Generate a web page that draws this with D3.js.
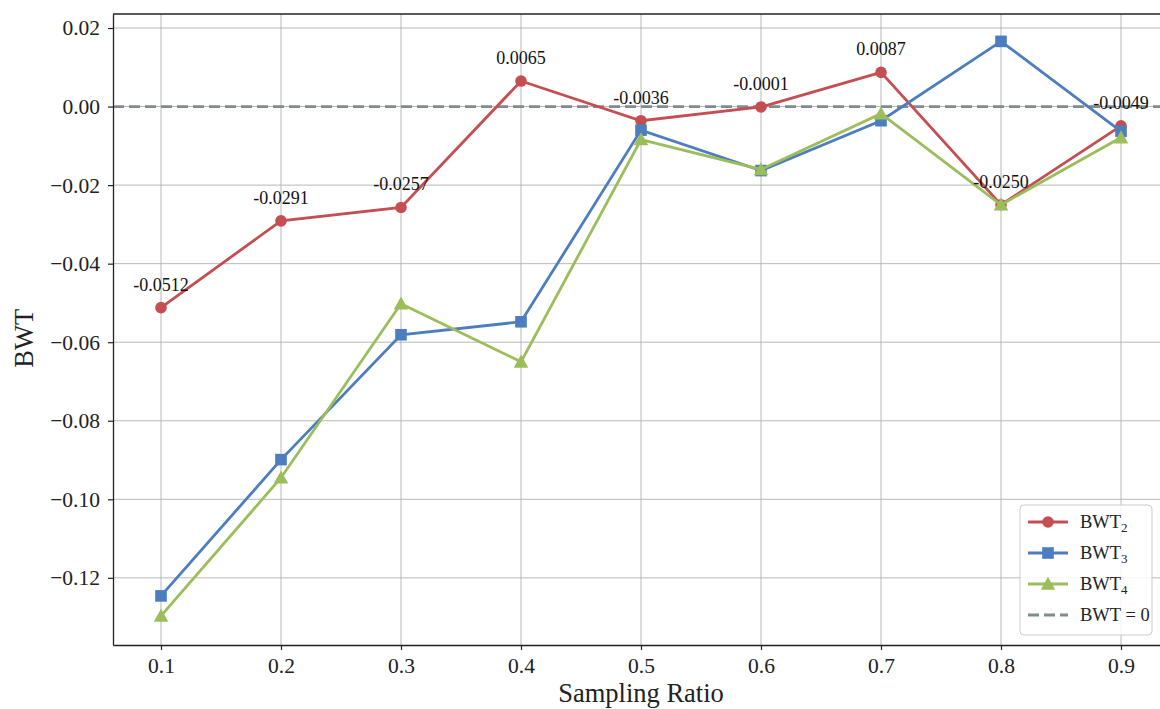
<!DOCTYPE html>
<html>
<head>
<meta charset="utf-8">
<script src="https://cdn.jsdelivr.net/npm/d3@7"></script>
<style>
  html, body { margin: 0; padding: 0; background: #fff; overflow: hidden; }
  svg { font-family: "Liberation Serif", "DejaVu Serif", serif; }
</style>
</head>
<body>
<svg id="chart" width="1180" height="709"></svg>
<script>
const ratios = [0.1, 0.2, 0.3, 0.4, 0.5, 0.6, 0.7, 0.8, 0.9];
const bwt2 = [-0.0512, -0.0291, -0.0257, 0.0065, -0.0036, -0.0001, 0.0087, -0.0250, -0.0049];
const bwt3 = [-0.1246, -0.0899, -0.0581, -0.0548, -0.0060, -0.0163, -0.0036, 0.0166, -0.0063];
const bwt4 = [-0.1297, -0.0945, -0.0502, -0.0650, -0.0084, -0.0160, -0.0018, -0.0250, -0.0079];
const yTicks = [0.02, 0.00, -0.02, -0.04, -0.06, -0.08, -0.10, -0.12];

const series = [
  { name: 'BWT', sub: '2', values: bwt2, color: '#c44e52', marker: 'circle' },
  { name: 'BWT', sub: '3', values: bwt3, color: '#4c7dbf', marker: 'square' },
  { name: 'BWT', sub: '4', values: bwt4, color: '#9bbd5a', marker: 'triangle' }
];

const svg = d3.select('#chart');
const m = { left: 113, top: 14, right: 1169, bottom: 645 };

const x = d3.scaleLinear().domain([0.06, 0.94]).range([m.left, m.right]);
const y = d3.scaleLinear().domain([-0.1371, 0.02357]).range([m.bottom, m.top]);

// grid
const grid = svg.append('g');
grid.selectAll('.gx').data(ratios).enter().append('line')
  .attr('x1', d => x(d)).attr('x2', d => x(d))
  .attr('y1', m.top).attr('y2', m.bottom)
  .attr('stroke', '#b8b8b8').attr('stroke-width', 1);
grid.selectAll('.gy').data(yTicks).enter().append('line')
  .attr('x1', m.left).attr('x2', m.right)
  .attr('y1', d => y(d)).attr('y2', d => y(d))
  .attr('stroke', '#b8b8b8').attr('stroke-width', 1);

// zero line
svg.append('line')
  .attr('x1', m.left).attr('x2', m.right)
  .attr('y1', y(0)).attr('y2', y(0))
  .attr('stroke', '#7f8c8d').attr('stroke-width', 2.8)
  .attr('stroke-dasharray', '11,5');

// axes
const fmt = d => (d < 0 ? '\u2212' : '') + Math.abs(d).toFixed(2);
const xAxis = svg.append('g').attr('transform', `translate(0,${m.bottom})`)
  .call(d3.axisBottom(x).tickValues(ratios).tickFormat(d3.format('.1f'))
    .tickSize(5).tickSizeOuter(0).tickPadding(8));
const yAxis = svg.append('g').attr('transform', `translate(${m.left},0)`)
  .call(d3.axisLeft(y).tickValues(yTicks).tickFormat(fmt)
    .tickSize(5).tickSizeOuter(0).tickPadding(8));
[xAxis, yAxis].forEach(a => {
  a.select('.domain').attr('stroke', '#222').attr('stroke-width', 1.3);
  a.selectAll('.tick line').attr('stroke', '#222').attr('stroke-width', 1.2);
  a.selectAll('.tick text').attr('fill', '#222')
    .style('font-family', '"Liberation Serif", serif').style('font-size', '21.5px');
});

// top / right spines
svg.append('line').attr('x1', m.left).attr('x2', m.right).attr('y1', m.top).attr('y2', m.top)
  .attr('stroke', '#222').attr('stroke-width', 1.3);
svg.append('line').attr('x1', m.right).attr('x2', m.right).attr('y1', m.top).attr('y2', m.bottom)
  .attr('stroke', '#222').attr('stroke-width', 1.3);

// axis labels
svg.append('text').attr('x', x(0.5)).attr('y', 702).attr('text-anchor', 'middle')
  .style('font-size', '26.5px').attr('fill', '#222').text('Sampling Ratio');
svg.append('text').attr('transform', `translate(33,${y(-0.06) - 4}) rotate(-90)`)
  .attr('text-anchor', 'middle').style('font-size', '26.5px').attr('fill', '#222').text('BWT');

const line = d3.line().x((d, i) => x(ratios[i])).y(d => y(d));

function drawMarker(g, type, cx, cy, color, s) {
  if (type === 'circle') {
    g.append('circle').attr('cx', cx).attr('cy', cy).attr('r', s).attr('fill', color);
  } else if (type === 'square') {
    g.append('rect').attr('x', cx - s).attr('y', cy - s).attr('width', 2 * s).attr('height', 2 * s).attr('fill', color);
  } else {
    const h = s * 1.25;
    g.append('path').attr('d', `M${cx},${cy - h}L${cx + h},${cy + h * 0.8}L${cx - h},${cy + h * 0.8}Z`).attr('fill', color);
  }
}

series.forEach(s => {
  const g = svg.append('g');
  g.append('path').datum(s.values).attr('d', line)
    .attr('fill', 'none').attr('stroke', s.color).attr('stroke-width', 2.8);
  s.values.forEach((v, i) => drawMarker(g, s.marker, x(ratios[i]), y(v), s.color, 5.8));
});

// value labels for BWT2
svg.append('g').selectAll('text').data(bwt2).enter().append('text')
  .attr('x', (d, i) => x(ratios[i]))
  .attr('y', d => y(d) - 17)
  .attr('text-anchor', 'middle')
  .style('font-size', '18px').attr('fill', '#111')
  .text(d => d.toFixed(4));

// legend
const lg = svg.append('g').attr('transform', 'translate(1020,505)');
lg.append('rect').attr('width', 132).attr('height', 130).attr('rx', 4)
  .attr('fill', 'rgba(255,255,255,0.85)').attr('stroke', '#ccc');
const items = series.concat([{ name: 'BWT = 0', sub: null, color: '#7f8c8d', marker: null }]);
items.forEach((it, i) => {
  const cy = 17 + i * 31;
  lg.append('line').attr('x1', 8).attr('x2', 48).attr('y1', cy).attr('y2', cy)
    .attr('stroke', it.color).attr('stroke-width', 2.8)
    .attr('stroke-dasharray', it.marker ? null : '11,5');
  if (it.marker) drawMarker(lg, it.marker, 28, cy, it.color, 5.8);
  const t = lg.append('text').attr('x', 60).attr('y', cy + 6)
    .style('font-size', '18.5px').attr('fill', '#222').text(it.name);
  if (it.sub) t.append('tspan').attr('dy', 4).style('font-size', '13px').text(it.sub);
});
</script>
</body>
</html>
